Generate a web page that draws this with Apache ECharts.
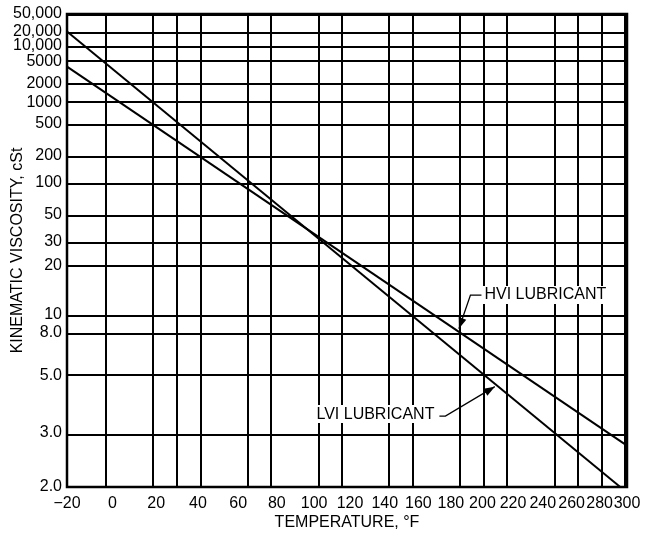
<!DOCTYPE html>
<html>
<head>
<meta charset="utf-8">
<script src="https://cdn.jsdelivr.net/npm/echarts@6/dist/echarts.min.js"></script>
<style>
  html, body { margin: 0; padding: 0; background: #fff; }
  #chart { width: 645px; height: 536px; }
</style>
</head>
<body>
<div id="chart"></div>
<script>
// Temperature grid lines (°F) and the labelled ones
const tempGrid = [-20, 0, 20, 30, 40, 60, 80, 100, 120, 140, 160, 180, 200, 220, 240, 260, 280, 300];
const tempTicks = [-20, 0, 20, 40, 60, 80, 100, 120, 140, 160, 180, 200, 220, 240, 260, 280, 300];
const tempTickLabels = ['\u221220', '0', '20', '40', '60', '80', '100', '120', '140', '160', '180', '200', '220', '240', '260', '280', '300'];

// Kinematic viscosity grid lines (cSt) and their labels
const viscTicks = [2, 3, 5, 8, 10, 20, 30, 50, 100, 200, 500, 1000, 2000, 5000, 10000, 20000, 50000];
const viscTickLabels = ['2.0', '3.0', '5.0', '8.0', '10', '20', '30', '50', '100', '200', '500', '1000', '2000', '5000', '10,000', '20,000', '50,000'];

// Lubricant viscosity-temperature lines (°F, cSt)
const hviTemp = [-20, 300];
const hviVisc = [4000, 2.7];
const lviTemp = [-20, 295];
const lviVisc = [20000, 2.0];

// Callout anchors (°F, cSt)
const hviNoteAt = [200, 13];
const hviNoteTip = [185, 8.4];
const lviNoteAt = [171, 3.5];
const lviNoteTip = [208, 4.5];

// ASTM D341 chart scales: log of absolute temperature, log-log of viscosity
const fx = t => Math.log10(t + 460);
const fy = v => Math.log10(Math.log10(v + 0.7));

const FONT = '"Liberation Sans", Arial, Helvetica, sans-serif';

function labelFor(value, ticks, labels, fn) {
  for (let i = 0; i < ticks.length; i++) {
    if (Math.abs(fn(ticks[i]) - value) < 1e-9) return labels[i];
  }
  return '';
}

const lineStyle = { color: '#000', width: 2 };

const gridLines = []
  .concat(tempGrid.map(t => ({ xAxis: fx(t) })))
  .concat(viscTicks.map(v => ({ yAxis: fy(v) })));

const chart = echarts.init(document.getElementById('chart'), null, { renderer: 'canvas' });

chart.setOption({
  animation: false,
  backgroundColor: '#fff',
  grid: {
    left: 67, right: 18, top: 14, bottom: 49,
    outerBoundsMode: 'none',
    containLabel: false,
    show: true, borderColor: '#000', borderWidth: 2.5, backgroundColor: 'transparent'
  },
  xAxis: {
    type: 'value',
    min: fx(-20), max: fx(300),
    name: 'TEMPERATURE, \u00B0F',
    nameLocation: 'middle',
    nameGap: 28,
    nameMoveOverlap: false,
    nameTextStyle: { color: '#000', fontSize: 16, fontFamily: FONT, verticalAlign: 'top' },
    axisLine: { show: false },
    axisTick: { show: false },
    splitLine: { show: false },
    axisLabel: {
      customValues: tempTicks.map(fx),
      formatter: v => labelFor(v, tempTicks, tempTickLabels, fx),
      hideOverlap: false,
      color: '#000', fontSize: 16, fontFamily: FONT, margin: 9
    }
  },
  yAxis: {
    type: 'value',
    min: fy(2), max: fy(50000),
    name: 'KINEMATIC VISCOSITY, cSt',
    nameLocation: 'middle',
    nameGap: 41,
    nameMoveOverlap: false,
    nameTextStyle: { color: '#000', fontSize: 16, fontFamily: FONT, verticalAlign: 'bottom' },
    axisLine: { show: false },
    axisTick: { show: false },
    splitLine: { show: false },
    axisLabel: {
      customValues: viscTicks.map(fy),
      formatter: v => labelFor(v, viscTicks, viscTickLabels, fy),
      hideOverlap: false,
      color: '#000', fontSize: 16, fontFamily: FONT, margin: 5
    }
  },
  series: [
    {
      name: 'HVI LUBRICANT',
      type: 'line',
      symbol: 'none',
      lineStyle: lineStyle,
      data: hviTemp.map((t, i) => [fx(t), fy(hviVisc[i])]),
      markLine: {
        silent: true,
        symbol: 'none',
        label: { show: false },
        lineStyle: { color: '#000', width: 2, type: 'solid' },
        data: gridLines
      }
    },
    {
      name: 'LVI LUBRICANT',
      type: 'line',
      symbol: 'none',
      lineStyle: lineStyle,
      data: lviTemp.map((t, i) => [fx(t), fy(lviVisc[i])])
    }
  ]
});

// Callouts with leader lines and arrowheads
function toPx(p) {
  return chart.convertToPixel({ gridIndex: 0 }, [fx(p[0]), fy(p[1])]);
}

function arrowHead(from, tip, len, half) {
  const dx = tip[0] - from[0], dy = tip[1] - from[1];
  const d = Math.hypot(dx, dy);
  const ux = dx / d, uy = dy / d;
  const bx = tip[0] - ux * len, by = tip[1] - uy * len;
  return [tip, [bx - uy * half, by + ux * half], [bx + uy * half, by - ux * half]];
}

const noteStyle = {
  fill: '#000', fontSize: 16, fontFamily: FONT,
  backgroundColor: '#fff', padding: [1, 2, 1, 2]
};

const hA = toPx(hviNoteAt), hT = toPx(hviNoteTip);
const hCorner = [hA[0] - 12, hA[1]];
const lA = toPx(lviNoteAt), lT = toPx(lviNoteTip);
const lCorner = [lA[0] + 9, lA[1] + 2];

chart.setOption({
  graphic: [
    { type: 'text', x: hA[0], y: hA[1], z: 100,
      style: Object.assign({ text: 'HVI LUBRICANT', align: 'left', verticalAlign: 'middle' }, noteStyle) },
    { type: 'polyline', z: 100, shape: { points: [[hA[0] - 1, hA[1]], hCorner, hT] },
      style: { stroke: '#000', lineWidth: 1.3, fill: null } },
    { type: 'polygon', z: 100, shape: { points: arrowHead(hCorner, hT, 11, 4) }, style: { fill: '#000' } },

    { type: 'text', x: lA[0], y: lA[1], z: 100,
      style: Object.assign({ text: 'LVI LUBRICANT', align: 'right', verticalAlign: 'middle' }, noteStyle) },
    { type: 'polyline', z: 100, shape: { points: [[lA[0] + 3, lA[1] + 2], lCorner, lT] },
      style: { stroke: '#000', lineWidth: 1.3, fill: null } },
    { type: 'polygon', z: 100, shape: { points: arrowHead(lCorner, lT, 11, 4) }, style: { fill: '#000' } }
  ]
});
</script>
</body>
</html>
